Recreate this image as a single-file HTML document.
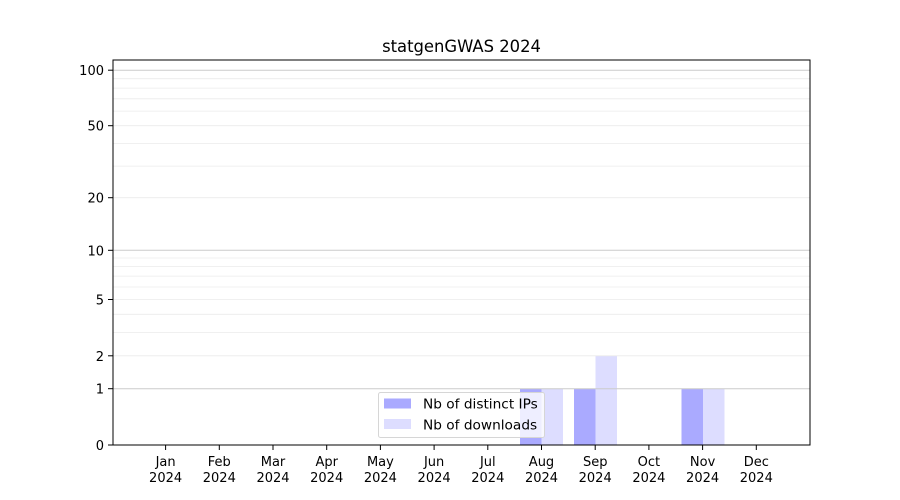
<!DOCTYPE html>
<html><head><meta charset="utf-8"><style>body{margin:0;background:#fff}svg{display:block;font-family:"DejaVu Sans","Liberation Sans",sans-serif}</style></head>
<body>
<svg width="900" height="500" viewBox="0 0 900 500" xmlns="http://www.w3.org/2000/svg">
<rect width="900" height="500" fill="#fff"/>
<text x="461.5" y="52" font-size="16.4" text-anchor="middle" fill="#000">statgenGWAS 2024</text>
<g>
<rect x="520" y="388.7" width="21.5" height="56.3" fill="#aaaaff"/>
<rect x="541.5" y="388.7" width="21.5" height="56.3" fill="#ddddff"/>
<rect x="574" y="388.7" width="21.5" height="56.3" fill="#aaaaff"/>
<rect x="595.5" y="355.8" width="21.5" height="89.2" fill="#ddddff"/>
<rect x="681.5" y="388.7" width="21.5" height="56.3" fill="#aaaaff"/>
<rect x="703" y="388.7" width="21.5" height="56.3" fill="#ddddff"/>
</g>
<g stroke="#ebebeb" stroke-width="0.8">
<line x1="113" x2="810" y1="355.8" y2="355.8"/>
<line x1="113" x2="810" y1="332.4" y2="332.4"/>
<line x1="113" x2="810" y1="314.3" y2="314.3"/>
<line x1="113" x2="810" y1="299.5" y2="299.5"/>
<line x1="113" x2="810" y1="287.0" y2="287.0"/>
<line x1="113" x2="810" y1="276.1" y2="276.1"/>
<line x1="113" x2="810" y1="266.6" y2="266.6"/>
<line x1="113" x2="810" y1="258.0" y2="258.0"/>
<line x1="113" x2="810" y1="197.7" y2="197.7"/>
<line x1="113" x2="810" y1="166.1" y2="166.1"/>
<line x1="113" x2="810" y1="143.4" y2="143.4"/>
<line x1="113" x2="810" y1="125.7" y2="125.7"/>
<line x1="113" x2="810" y1="111.1" y2="111.1"/>
<line x1="113" x2="810" y1="98.8" y2="98.8"/>
<line x1="113" x2="810" y1="88.1" y2="88.1"/>
<line x1="113" x2="810" y1="78.7" y2="78.7"/>
</g>
<g stroke="#cccccc" stroke-width="1">
<line x1="113" x2="810" y1="388.7" y2="388.7"/>
<line x1="113" x2="810" y1="250.3" y2="250.3"/>
<line x1="113" x2="810" y1="70.2" y2="70.2"/>
</g>
<rect x="113" y="60" width="697" height="385" fill="none" stroke="#000" stroke-width="1"/>
<g stroke="#000" stroke-width="1">
<line x1="108" x2="113" y1="445" y2="445"/>
<line x1="108" x2="113" y1="388.7" y2="388.7"/>
<line x1="108" x2="113" y1="355.8" y2="355.8"/>
<line x1="108" x2="113" y1="299.5" y2="299.5"/>
<line x1="108" x2="113" y1="250.3" y2="250.3"/>
<line x1="108" x2="113" y1="197.7" y2="197.7"/>
<line x1="108" x2="113" y1="125.7" y2="125.7"/>
<line x1="108" x2="113" y1="70.2" y2="70.2"/>
</g>
<g font-size="13" text-anchor="end" fill="#000">
<text x="104" y="450">0</text>
<text x="104" y="393.7">1</text>
<text x="104" y="360.8">2</text>
<text x="104" y="304.5">5</text>
<text x="104" y="255.3">10</text>
<text x="104" y="202.7">20</text>
<text x="104" y="130.7">50</text>
<text x="104" y="75.2">100</text>
</g>
<g stroke="#000" stroke-width="1">
<line x1="165.6" x2="165.6" y1="445" y2="450"/>
<line x1="219.3" x2="219.3" y1="445" y2="450"/>
<line x1="273.0" x2="273.0" y1="445" y2="450"/>
<line x1="326.7" x2="326.7" y1="445" y2="450"/>
<line x1="380.4" x2="380.4" y1="445" y2="450"/>
<line x1="434.1" x2="434.1" y1="445" y2="450"/>
<line x1="487.8" x2="487.8" y1="445" y2="450"/>
<line x1="541.5" x2="541.5" y1="445" y2="450"/>
<line x1="595.2" x2="595.2" y1="445" y2="450"/>
<line x1="648.9" x2="648.9" y1="445" y2="450"/>
<line x1="702.6" x2="702.6" y1="445" y2="450"/>
<line x1="756.3" x2="756.3" y1="445" y2="450"/>
</g>
<g font-size="13" text-anchor="middle" fill="#000">
<text x="165.6" y="466">Jan</text><text x="165.6" y="482">2024</text>
<text x="219.3" y="466">Feb</text><text x="219.3" y="482">2024</text>
<text x="273.0" y="466">Mar</text><text x="273.0" y="482">2024</text>
<text x="326.7" y="466">Apr</text><text x="326.7" y="482">2024</text>
<text x="380.4" y="466">May</text><text x="380.4" y="482">2024</text>
<text x="434.1" y="466">Jun</text><text x="434.1" y="482">2024</text>
<text x="487.8" y="466">Jul</text><text x="487.8" y="482">2024</text>
<text x="541.5" y="466">Aug</text><text x="541.5" y="482">2024</text>
<text x="595.2" y="466">Sep</text><text x="595.2" y="482">2024</text>
<text x="648.9" y="466">Oct</text><text x="648.9" y="482">2024</text>
<text x="702.6" y="466">Nov</text><text x="702.6" y="482">2024</text>
<text x="756.3" y="466">Dec</text><text x="756.3" y="482">2024</text>
</g>
<rect x="378.5" y="392.5" width="166" height="45" rx="2" fill="#fff" fill-opacity="0.8" stroke="#d6d6d6"/>
<rect x="384" y="398.5" width="27" height="10" fill="#aaaaff"/>
<rect x="384" y="419" width="27" height="10" fill="#ddddff"/>
<g font-size="13.7" fill="#000">
<text x="423" y="408.5">Nb of distinct IPs</text>
<text x="423" y="429.5">Nb of downloads</text>
</g>
</svg>
</body></html>
